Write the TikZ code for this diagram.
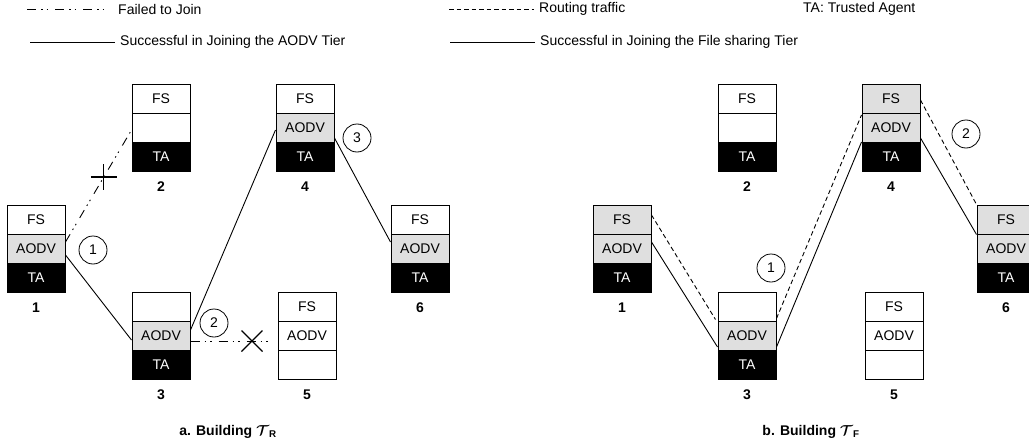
\documentclass[tikz,border=0pt]{standalone}
\usepackage{fontspec}
\setmainfont{Liberation Sans}
\usetikzlibrary{calc}
\newcommand\mystack[9]{%
  \node[#4] (#1a) at (#2,#3+14.5) {#5};
  \node[#6] (#1b) at (#2,#3+43.5) {#7};
  \node[#8] (#1c) at (#2,#3+72.5) {#9};
}
\begin{document}
\begin{tikzpicture}[x=1pt,y=-1pt,
  font=\fontsize{14}{16}\selectfont,
  cell/.style={draw, line width=1pt, minimum width=58pt, minimum height=29pt, inner sep=0pt, anchor=center},
  wcell/.style={cell, fill=white},
  scell/.style={cell, fill=gray!25},
  bcell/.style={cell, fill=black, text=white},
  num/.style={font=\fontsize{14}{16}\selectfont\bfseries, inner sep=0pt},
  circ/.style={circle, draw, line width=0.8pt, minimum size=28pt, inner sep=0pt},
  conn/.style={line width=0.9pt},
  failed/.style={conn, dash pattern=on 9pt off 5pt on 1.5pt off 4pt on 1.5pt off 7pt},
  routing/.style={conn, dash pattern=on 4.5pt off 3pt},
  legtext/.style={anchor=west, inner sep=0pt},
  cross/.style={line width=1.4pt}
]
\useasboundingbox (0,0) rectangle (1029,447);
\clip (0,0) rectangle (1029,447);

% ---------- legend ----------
\coordinate (lf1) at (27,9);  \coordinate (lf2) at (110,9);
\draw[failed] (lf1) -- (lf2);
\node[legtext] (tf) at (118,9) {Failed to Join};
\coordinate (ls1) at (30,42); \coordinate (ls2) at (115,42);
\draw[conn] (ls1) -- (ls2);
\node[legtext] (ts) at (120,42) {Successful in Joining the AODV Tier};
\coordinate (lr1) at (449,9); \coordinate (lr2) at (534,9);
\draw[routing] (lr1) -- (lr2);
\node[legtext] (tr) at (539,9) {Routing traffic};
\coordinate (lt1) at (450,42); \coordinate (lt2) at (535,42);
\draw[conn] (lt1) -- (lt2);
\node[legtext] (tt) at (540,42) {Successful in Joining the File sharing Tier};
\node[legtext] (ta) at (803,9) {TA: Trusted Agent};

% ---------- a. Building T_R ----------
\mystack{La}{36}{205}{wcell}{FS}{scell}{AODV}{bcell}{TA}
\mystack{Lb}{161}{84}{wcell}{FS}{wcell}{}{bcell}{TA}
\mystack{Lc}{161}{292}{wcell}{}{scell}{AODV}{bcell}{TA}
\mystack{Ld}{305}{84}{wcell}{FS}{scell}{AODV}{bcell}{TA}
\mystack{Le}{307}{292}{wcell}{FS}{wcell}{AODV}{wcell}{}
\mystack{Lf}{420}{205}{wcell}{FS}{scell}{AODV}{bcell}{TA}
\node[num] (nLa) at (36,308) {1};
\node[num] (nLb) at (161,187) {2};
\node[num] (nLc) at (161,395) {3};
\node[num] (nLd) at (305,187) {4};
\node[num] (nLe) at (307,395) {5};
\node[num] (nLf) at (420,308) {6};

\draw[failed] ($(Lab.east)+(0,-6.5)$) -- coordinate[pos=0.58] (xab) ($(Lbb.west)+(0,2.5)$);
\draw[cross] ($(xab)+(-13,0)$) -- ($(xab)+(13,0)$) ($(xab)+(0,-13)$) -- ($(xab)+(0,13)$);
\draw[conn] ($(Lab.east)+(0,6.5)$) -- ($(Lcb.west)+(0,4.5)$);
\draw[conn] ($(Lcb.east)+(0,-5.5)$) -- ($(Ldb.west)+(0,2.5)$);
\draw[conn] ($(Ldb.east)+(0,10.5)$) -- ($(Lfb.west)+(0,-6.5)$);
\coordinate (eLe) at ($(Leb.west)+(-5,5.5)$);
\draw[failed] ($(Lcb.east)+(0,5.5)$) -- coordinate[pos=0.75] (xce) (eLe);
\draw[cross] ($(xce)+(-10.5,-10.5)$) -- ($(xce)+(10.5,10.5)$) ($(xce)+(-10.5,10.5)$) -- ($(xce)+(10.5,-10.5)$);

\node[circ] (cL1) at (93,250) {1};
\node[circ] (cL2) at (214,323) {2};
\node[circ] (cL3) at (357,138) {3};

\node[num] (capL) at (228,432) {a. Building {\boldmath$\mathcal{T}$}\textsubscript{R}};

% ---------- b. Building T_F ----------
\mystack{Ra}{622}{205}{scell}{FS}{scell}{AODV}{bcell}{TA}
\mystack{Rb}{747}{84}{wcell}{FS}{wcell}{}{bcell}{TA}
\mystack{Rc}{747}{292}{wcell}{}{scell}{AODV}{bcell}{TA}
\mystack{Rd}{891}{84}{scell}{FS}{scell}{AODV}{bcell}{TA}
\mystack{Re}{894}{292}{wcell}{FS}{wcell}{AODV}{wcell}{}
\mystack{Rf}{1006}{205}{scell}{FS}{scell}{AODV}{bcell}{TA}
\node[num] (nRa) at (622,308) {1};
\node[num] (nRb) at (747,187) {2};
\node[num] (nRc) at (747,395) {3};
\node[num] (nRd) at (891,187) {4};
\node[num] (nRe) at (894,395) {5};
\node[num] (nRf) at (1006,308) {6};

\draw[routing] ($(Raa.east)+(0,-4.5)$) -- ($(Rca.south west)+(-2,-2)$);
\draw[conn] ($(Rab.east)+(0,-6.5)$) -- ($(Rcb.south west)+(0,-3.5)$);
\draw[routing] ($(Rca.south east)+(0,-3)$) -- ($(Rda.south west)+(0,1.5)$);
\draw[conn] ($(Rcb.south east)+(0,-3.5)$) -- ($(Rdb.south west)+(0,-0.5)$);
\draw[routing] ($(Rda.east)+(0,1.5)$) -- (Rfa.north west);
\draw[conn] ($(Rdb.south east)+(0,-4.5)$) -- ($(Rfa.south west)+(0,0)$);

\node[circ] (cR1) at (771,268) {1};
\node[circ] (cR2) at (966,134) {2};

\node[num] (capR) at (811,432) {b. Building {\boldmath$\mathcal{T}$}\textsubscript{F}};
\end{tikzpicture}
\end{document}
